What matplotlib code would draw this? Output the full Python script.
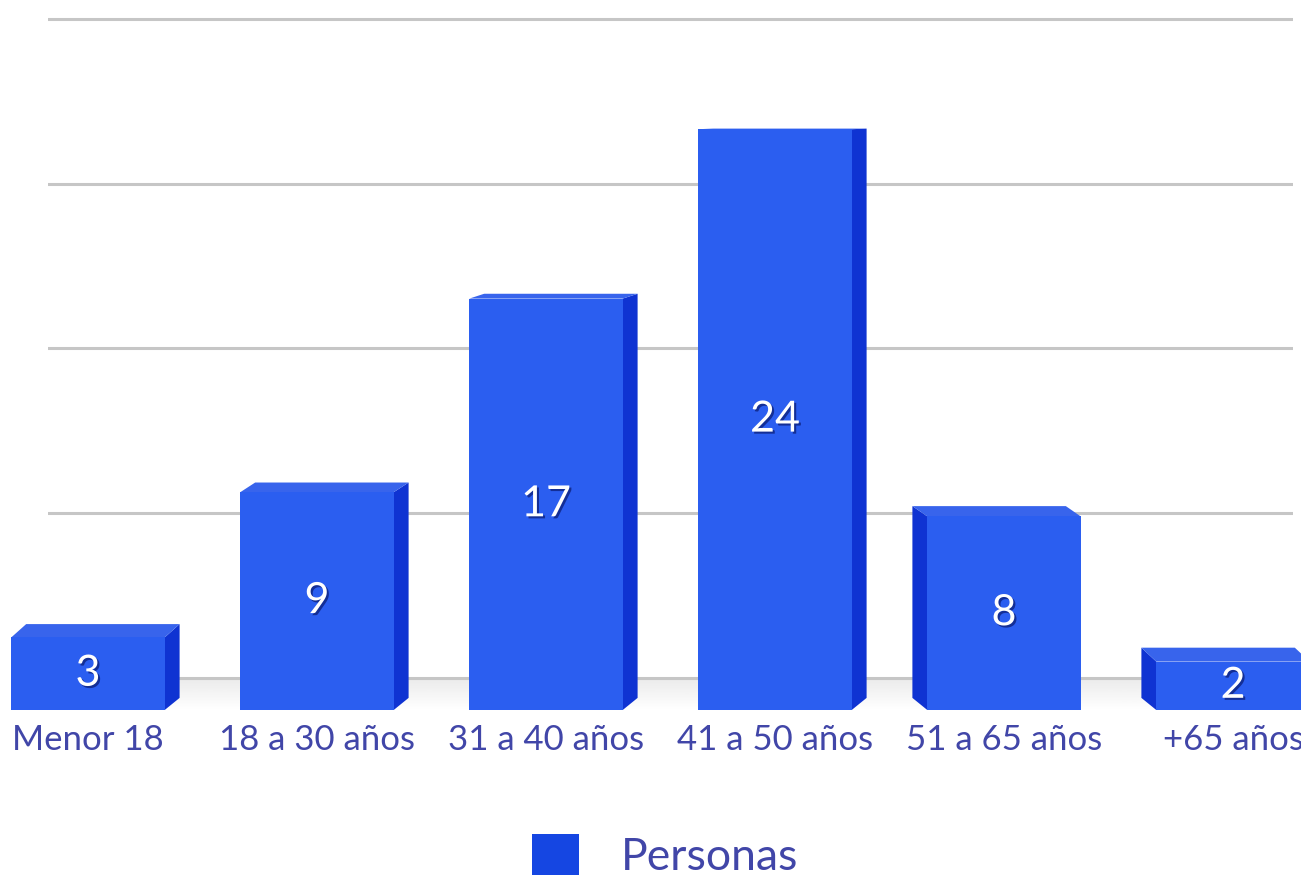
import numpy as np
import matplotlib
matplotlib.use('Agg')
import matplotlib.pyplot as plt
import matplotlib.patheffects as pe
from matplotlib.patches import Polygon, Patch

categories = ['Menor 18', '18 a 30 años', '31 a 40 años', '41 a 50 años', '51 a 65 años', '+65 años']
values = [3, 9, 17, 24, 8, 2]
series_name = 'Personas'
grid_ticks = [0, 6, 12, 18, 24]

FRONT = '#2B5EF0'
SIDE = '#0F33D2'
TOP = '#3864EC'
LABEL = '#4146A8'

plt.rcParams['font.family'] = ['Lato', 'DejaVu Sans']

W, H = 1301, 877
fig = plt.figure(figsize=(W / 100, H / 100), dpi=100)
fig.patch.set_facecolor('white')

bottom = (H - 710) / H
height = 710 / H

# back grid (perspective wall), its own scale
ax_grid = fig.add_axes([48 / W, bottom, (1293 - 48) / W, height])
ax_grid.set_ylim(-1.165, 24.69)
ax_grid.set_xlim(0, 1)
ax_grid.set_yticks(grid_ticks)
ax_grid.set_xticks([])
ax_grid.tick_params(left=False, labelleft=False)
ax_grid.grid(axis='y', color='#C6C6C6', linewidth=2.2)
for s in ax_grid.spines.values():
    s.set_visible(False)
# soft floor shadow under the baseline
grad = np.linspace(0.92, 1.0, 50).reshape(-1, 1)
ax_grid.imshow(grad, cmap='gray', vmin=0, vmax=1, aspect='auto',
               extent=(0, 1, -1.165, 0), zorder=0)
ax_grid.set_ylim(-1.165, 24.69)

# bars
ax = fig.add_axes([0, bottom, 1, height])
ax.patch.set_alpha(0)
x = np.arange(len(values))
ax.set_xlim(-88 / 229, (W - 88) / 229)
ax.set_ylim(0, 710 / 24.2)

bw = 0.67
ax.bar(x, values, width=bw, color=FRONT, edgecolor='none', zorder=3)

for i, v in enumerate(values):
    x0, x1 = i - bw / 2, i + bw / 2
    dz = 0.025 * (25 - v)
    dzb = 0.5
    if i <= 3:
        dx = 0.065
        xe = x1
    else:
        dx = -0.065
        xe = x0
    side = Polygon([(xe, 0), (xe + dx, dzb), (xe + dx, v + dz), (xe, v)],
                   closed=True, facecolor=SIDE, edgecolor='none', zorder=2)
    top = Polygon([(x0, v), (x1, v), (x1 + dx, v + dz), (x0 + dx, v + dz)],
                  closed=True, facecolor=TOP, edgecolor='none', zorder=2)
    ax.add_patch(side)
    ax.add_patch(top)
    ax.text(i, v / 2, str(v), color='white', fontsize=31, ha='center', va='center',
            zorder=5,
            path_effects=[pe.withSimplePatchShadow(offset=(1.5, -1.5), shadow_rgbFace='#0a1a70', alpha=0.7)])

ax.set_xticks(x)
ax.set_xticklabels(categories, color=LABEL, fontsize=25)
ax.tick_params(axis='x', length=0, pad=10)
ax.set_yticks([])
for s in ax.spines.values():
    s.set_visible(False)

fig.legend(handles=[Patch(facecolor='#1546E2', edgecolor='none', label=series_name)],
           loc='center left', bbox_to_anchor=(532 / W, 1 - 856 / H),
           frameon=False, fontsize=32, labelcolor=LABEL,
           handlelength=1.05, handleheight=1.05, handletextpad=0.95,
           borderpad=0, borderaxespad=0)

fig.savefig('out.png', dpi=100, facecolor='white')
